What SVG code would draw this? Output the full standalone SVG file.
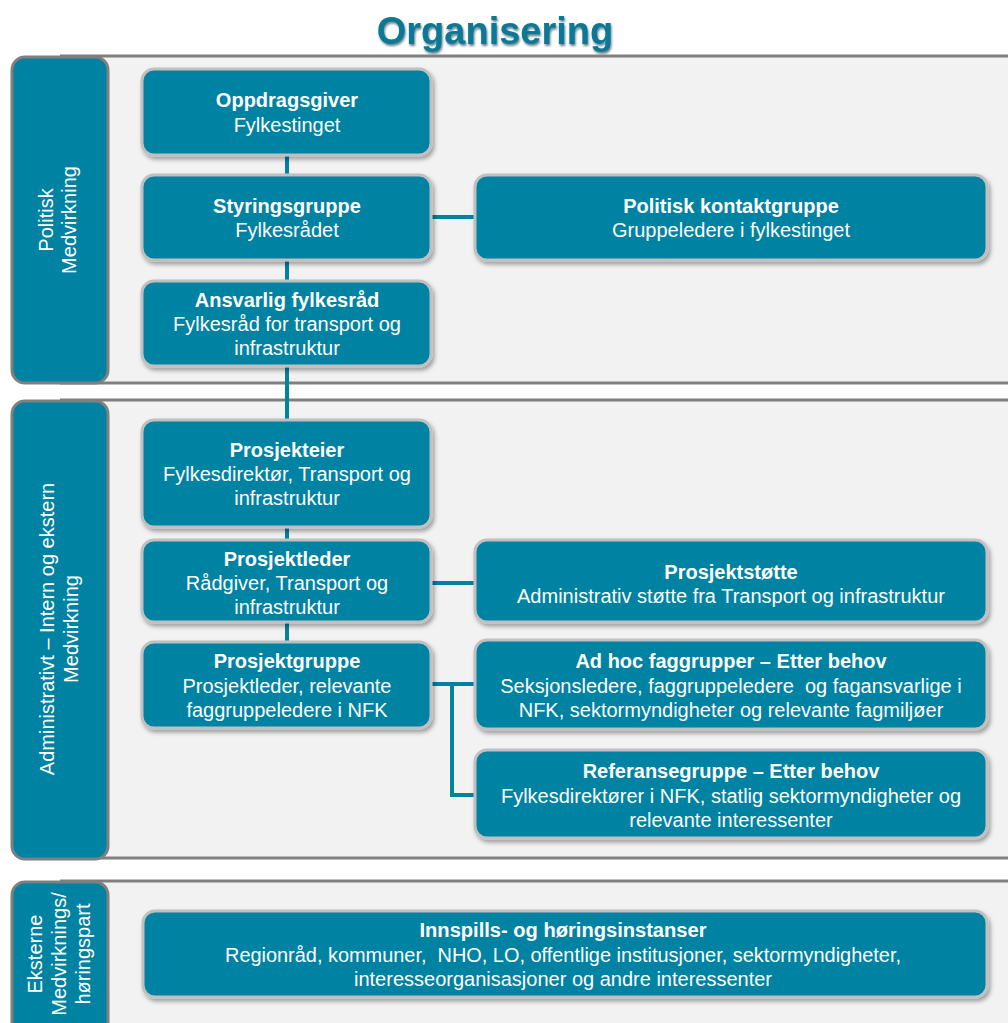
<svg xmlns="http://www.w3.org/2000/svg" width="1008" height="1023" viewBox="0 0 1008 1023">
<defs>
<filter id="sh" x="-5%" y="-10%" width="112%" height="130%">
<feDropShadow dx="2" dy="3" stdDeviation="2" flood-color="#000" flood-opacity="0.35"/>
</filter>
<filter id="tsh" x="-5%" y="-20%" width="110%" height="150%">
<feDropShadow dx="1" dy="2" stdDeviation="1" flood-color="#003040" flood-opacity="0.6"/>
</filter>
</defs>
<style>
.panel{fill:#f2f2f2}
.pline{stroke:#808080;stroke-width:3}
.side{fill:#0082a3;stroke:#7f7f7f;stroke-width:3}
.node{fill:#0082a3;stroke:#c0c0c0;stroke-width:3;filter:url(#sh)}
.t{font-family:"Liberation Sans",Arial,sans-serif;font-size:20px;fill:#fff;text-anchor:middle}
.b{font-weight:bold}
.pre{white-space:pre}
.conn{stroke:#0082a3;stroke-width:4;fill:none}
.title{font-family:"Liberation Sans",Arial,sans-serif;font-size:38px;font-weight:bold;fill:#0a7896;text-anchor:middle;filter:url(#tsh)}
</style>
<rect width="1008" height="1023" fill="#fff"/>
<text class="title" x="495" y="44">Organisering</text>

<g id="panels">
<rect class="panel" x="60" y="56" width="960" height="327"/>
<line class="pline" x1="60" y1="56" x2="1010" y2="56"/>
<line class="pline" x1="60" y1="383" x2="1010" y2="383"/>
<rect class="panel" x="60" y="400" width="960" height="458"/>
<line class="pline" x1="60" y1="400" x2="1010" y2="400"/>
<line class="pline" x1="60" y1="858" x2="1010" y2="858"/>
<rect class="panel" x="60" y="881" width="960" height="150"/>
<line class="pline" x1="60" y1="881" x2="1010" y2="881"/>
</g>

<g id="side1">
<rect class="side" x="12" y="57" width="96" height="326" rx="13"/>
<g transform="translate(60,220) rotate(-90)">
<text class="t" x="0" y="-7">Politisk</text>
<text class="t" x="0" y="16">Medvirkning</text>
</g>
</g>
<g id="side2">
<rect class="side" x="12" y="401" width="96" height="458" rx="13"/>
<g transform="translate(60,629) rotate(-90)">
<text class="t" x="0" y="-6">Administrativt – Intern og ekstern</text>
<text class="t" x="0" y="18">Medvirkning</text>
</g>
</g>
<g id="side3">
<rect class="side" x="12" y="882" width="96" height="160" rx="13"/>
<g transform="translate(60,954) rotate(-90)">
<text class="t" x="0" y="-18">Eksterne</text>
<text class="t" x="0" y="6">Medvirknings/</text>
<text class="t" x="0" y="30">høringspart</text>
</g>
</g>

<g id="connectors">
<line class="conn" x1="287" y1="154" x2="287" y2="176"/>
<line class="conn" x1="287" y1="259" x2="287" y2="282"/>
<line class="conn" x1="287" y1="365" x2="287" y2="421"/>
<line class="conn" x1="287" y1="526" x2="287" y2="541"/>
<line class="conn" x1="287" y1="621" x2="287" y2="643"/>
<line class="conn" x1="430" y1="217" x2="476" y2="217"/>
<line class="conn" x1="430" y1="583" x2="476" y2="583"/>
<line class="conn" x1="430" y1="684" x2="476" y2="684"/>
<polyline class="conn" points="452,684 452,795 476,795"/>
</g>

<g id="oppdragsgiver">
<rect class="node" x="142" y="69" width="289" height="86" rx="12"/>
<text class="t b" x="287" y="107">Oppdragsgiver</text>
<text class="t" x="287" y="132">Fylkestinget</text>
</g>
<g id="styringsgruppe">
<rect class="node" x="142" y="175" width="289" height="85" rx="12"/>
<text class="t b" x="287" y="213">Styringsgruppe</text>
<text class="t" x="287" y="237">Fylkesrådet</text>
</g>
<g id="politisk-kontaktgruppe">
<rect class="node" x="475" y="175" width="512" height="85" rx="12"/>
<text class="t b" x="731" y="213">Politisk kontaktgruppe</text>
<text class="t" x="731" y="237">Gruppeledere i fylkestinget</text>
</g>
<g id="ansvarlig">
<rect class="node" x="142" y="281" width="289" height="85" rx="12"/>
<text class="t b" x="287" y="307">Ansvarlig fylkesråd</text>
<text class="t" x="287" y="331">Fylkesråd for transport og</text>
<text class="t" x="287" y="355">infrastruktur</text>
</g>
<g id="prosjekteier">
<rect class="node" x="142" y="420" width="289" height="107" rx="12"/>
<text class="t b" x="287" y="457">Prosjekteier</text>
<text class="t" x="287" y="481">Fylkesdirektør, Transport og</text>
<text class="t" x="287" y="505">infrastruktur</text>
</g>
<g id="prosjektleder">
<rect class="node" x="142" y="540" width="289" height="82" rx="12"/>
<text class="t b" x="287" y="566">Prosjektleder</text>
<text class="t" x="287" y="590">Rådgiver, Transport og</text>
<text class="t" x="287" y="614">infrastruktur</text>
</g>
<g id="prosjektstotte">
<rect class="node" x="475" y="540" width="512" height="82" rx="12"/>
<text class="t b" x="731" y="579">Prosjektstøtte</text>
<text class="t" x="731" y="603">Administrativ støtte fra Transport og infrastruktur</text>
</g>
<g id="prosjektgruppe">
<rect class="node" x="142" y="642" width="289" height="86" rx="12"/>
<text class="t b" x="287" y="668">Prosjektgruppe</text>
<text class="t" x="287" y="693">Prosjektleder, relevante</text>
<text class="t" x="287" y="717">faggruppeledere i NFK</text>
</g>
<g id="adhoc">
<rect class="node" x="475" y="640" width="512" height="89" rx="12"/>
<text class="t b" x="731" y="668">Ad hoc faggrupper – Etter behov</text>
<text class="t pre" x="731" y="693">Seksjonsledere, faggruppeledere  og fagansvarlige i</text>
<text class="t" x="731" y="717">NFK, sektormyndigheter og relevante fagmiljøer</text>
</g>
<g id="referansegruppe">
<rect class="node" x="475" y="750" width="512" height="88" rx="12"/>
<text class="t b" x="731" y="778">Referansegruppe – Etter behov</text>
<text class="t" x="731" y="803">Fylkesdirektører i NFK, statlig sektormyndigheter og</text>
<text class="t" x="731" y="827">relevante interessenter</text>
</g>
<g id="innspill">
<rect class="node" x="143" y="911" width="844" height="86" rx="12"/>
<text class="t b" x="563" y="937" textLength="287" lengthAdjust="spacingAndGlyphs">Innspills- og høringsinstanser</text>
<text class="t pre" x="563" y="962" textLength="676" lengthAdjust="spacingAndGlyphs">Regionråd, kommuner,  NHO, LO, offentlige institusjoner, sektormyndigheter,</text>
<text class="t" x="563" y="986" textLength="418" lengthAdjust="spacingAndGlyphs">interesseorganisasjoner og andre interessenter</text>
</g>
</svg>
